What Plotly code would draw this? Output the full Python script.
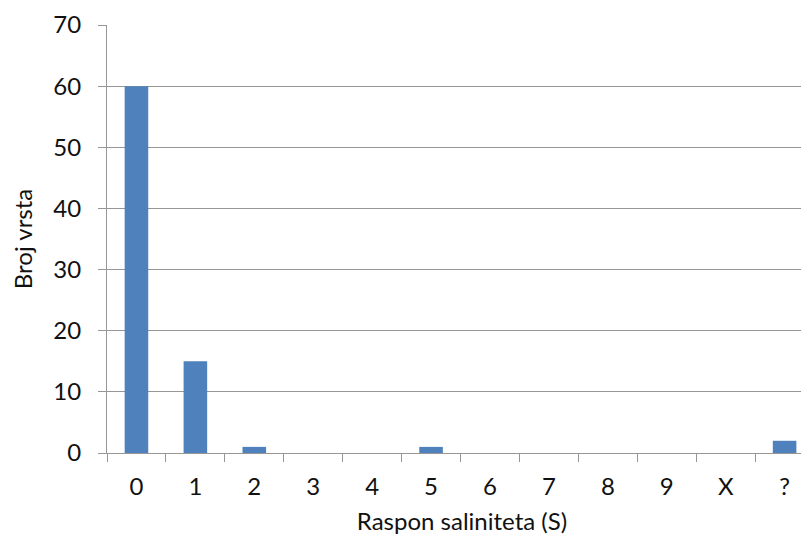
import plotly.graph_objects as go

categories = ["0", "1", "2", "3", "4", "5", "6", "7", "8", "9", "X", "?"]
counts = [60, 15, 1, 0, 0, 1, 0, 0, 0, 0, 0, 2]
y_ticks = [0, 10, 20, 30, 40, 50, 60, 70]

FONT = "Lato"
GREY = "#969696"
TXT = "#111111"

fig = go.Figure(go.Bar(
    x=categories, y=counts,
    marker=dict(color="#4F81BD", line=dict(width=0)),
))

# page body has an 8px default margin; margins below compensate for it
fig.update_layout(
    width=809, height=536,
    margin=dict(l=99, r=0, t=17, b=91),
    paper_bgcolor="white", plot_bgcolor="white",
    bargap=0.6,
    showlegend=False,
    font=dict(family=FONT, size=24, color=TXT),
)

fig.update_xaxes(
    type="category",
    range=[-0.5, 11.55],
    tickson="boundaries",
    ticks="outside", ticklen=8, tickcolor=GREY, tickwidth=1,
    showline=True, linecolor=GREY, linewidth=1,
    showgrid=False,
    ticklabelstandoff=12,
    tickfont=dict(family=FONT, size=24, color=TXT),
    title=dict(text="Raspon saliniteta (S)", font=dict(family=FONT, size=24, color=TXT), standoff=14),
)

fig.update_yaxes(
    range=[0, 70],
    tickvals=y_ticks,
    ticks="outside", ticklen=8, tickcolor=GREY, tickwidth=1,
    showline=True, linecolor=GREY, linewidth=1,
    showgrid=True, gridcolor=GREY, gridwidth=1,
    zeroline=False,
    ticklabelstandoff=12,
    tickfont=dict(family=FONT, size=24, color=TXT),
    title=dict(text="Broj vrsta", font=dict(family=FONT, size=24, color=TXT), standoff=20),
)

fig.write_html("out.html")
